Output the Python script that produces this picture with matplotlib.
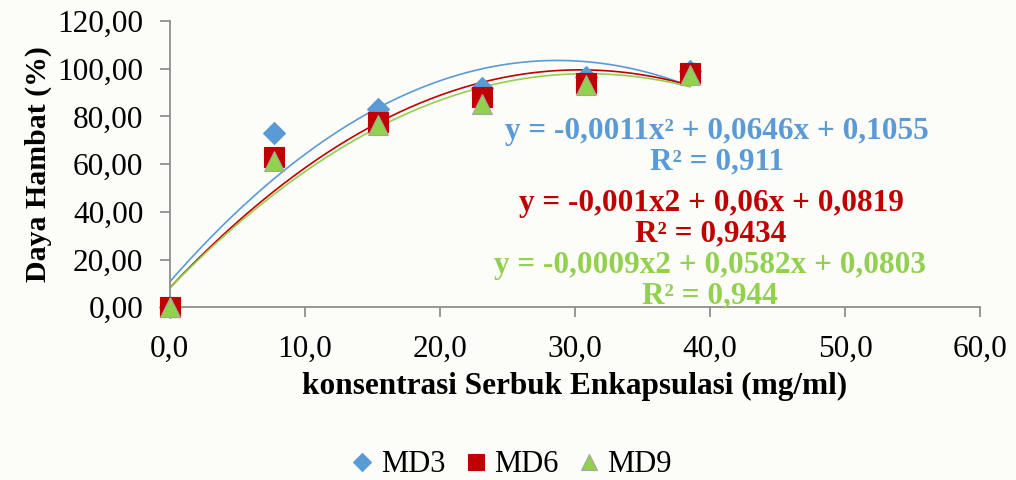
import numpy as np
import matplotlib.pyplot as plt
from matplotlib.ticker import FuncFormatter

plt.rcParams['font.family'] = ['Liberation Serif', 'DejaVu Serif']

# konsentrasi (mg/ml) and daya hambat (%) for each formula
konsentrasi = np.array([0.0, 7.7, 15.4, 23.1, 30.8, 38.5])
md3 = np.array([0.0, 73.1, 83.0, 92.0, 96.5, 99.0])
md6 = np.array([0.0, 62.8, 77.8, 88.0, 94.0, 98.2])
md9 = np.array([0.0, 61.2, 76.3, 85.3, 93.0, 97.4])

names = ["MD3", "MD6", "MD9"]
eq_text = ["y = -0,0011x² + 0,0646x + 0,1055\nR² = 0,911",
           "y = -0,001x2 + 0,06x + 0,0819\nR² = 0,9434",
           "y = -0,0009x2 + 0,0582x + 0,0803\nR² = 0,944"]

colors = ["#5B9BD5", "#C00000", "#92D050"]
markers = ["D", "s", "^"]
msizes = [11, 14, 15]

fig = plt.figure(figsize=(10.16, 4.8), dpi=100, facecolor="#FCFCF8")
ax = fig.add_axes([0.167, 0.360, 0.798, 0.596])
ax.set_facecolor("#FCFCF8")

xs = np.linspace(0, 38.5, 200)
for y, c in zip([md3, md6, md9], colors):
    # order-2 polynomial trendline
    coef = np.polyfit(konsentrasi, y, 2)
    ax.plot(xs, np.polyval(coef, xs), color=c, lw=1.2, zorder=2)
for y, name, c, m, ms in zip([md3, md6, md9], names, colors, markers, msizes):
    ec = "#A5A5A5" if m == "^" else c
    ax.plot(konsentrasi, y, linestyle="none", marker=m, ms=ms, color=c,
            markeredgecolor=ec, markeredgewidth=0.8, label=name, zorder=3,
            clip_on=False)

ax.set_xlim(0, 60)
ax.set_ylim(0, 120)
ax.set_xticks(np.arange(0, 61, 10))
ax.set_yticks(np.arange(0, 121, 20))
ax.xaxis.set_major_formatter(FuncFormatter(lambda v, p: f"{v:.1f}".replace(".", ",")))
ax.yaxis.set_major_formatter(FuncFormatter(lambda v, p: f"{v:.2f}".replace(".", ",")))

for s in ["top", "right"]:
    ax.spines[s].set_visible(False)
for s in ["left", "bottom"]:
    ax.spines[s].set_color("#868686")
    ax.spines[s].set_linewidth(1.2)
ax.tick_params(axis="x", length=7, width=1.2, color="#868686", pad=13,
               labelsize=22.5)
ax.tick_params(axis="y", length=7, width=1.2, color="#868686", pad=12,
               labelsize=22.5)

ax.set_xlabel("konsentrasi Serbuk Enkapsulasi (mg/ml)", fontsize=22.5,
              fontweight="bold", labelpad=6)
ax.set_ylabel("Daya Hambat (%)", fontsize=21.5, fontweight="bold", labelpad=4)

eq_pos = [(717, 147), (711, 219), (710, 281)]
for (px, py), t, c in zip(eq_pos, eq_text, colors):
    fig.text(px / 1016, 1 - py / 480, t, color=c, fontsize=22.5,
             fontweight="bold", ha="center", va="center", linespacing=1.05)

fig.legend(loc="center", bbox_to_anchor=(0.5, 1 - 465 / 480), ncol=3,
           frameon=False, fontsize=22, handletextpad=0.0, columnspacing=0.4,
           handlelength=1.2, markerscale=0.8, borderaxespad=0)

fig.savefig("out.png", dpi=100, facecolor=fig.get_facecolor())
